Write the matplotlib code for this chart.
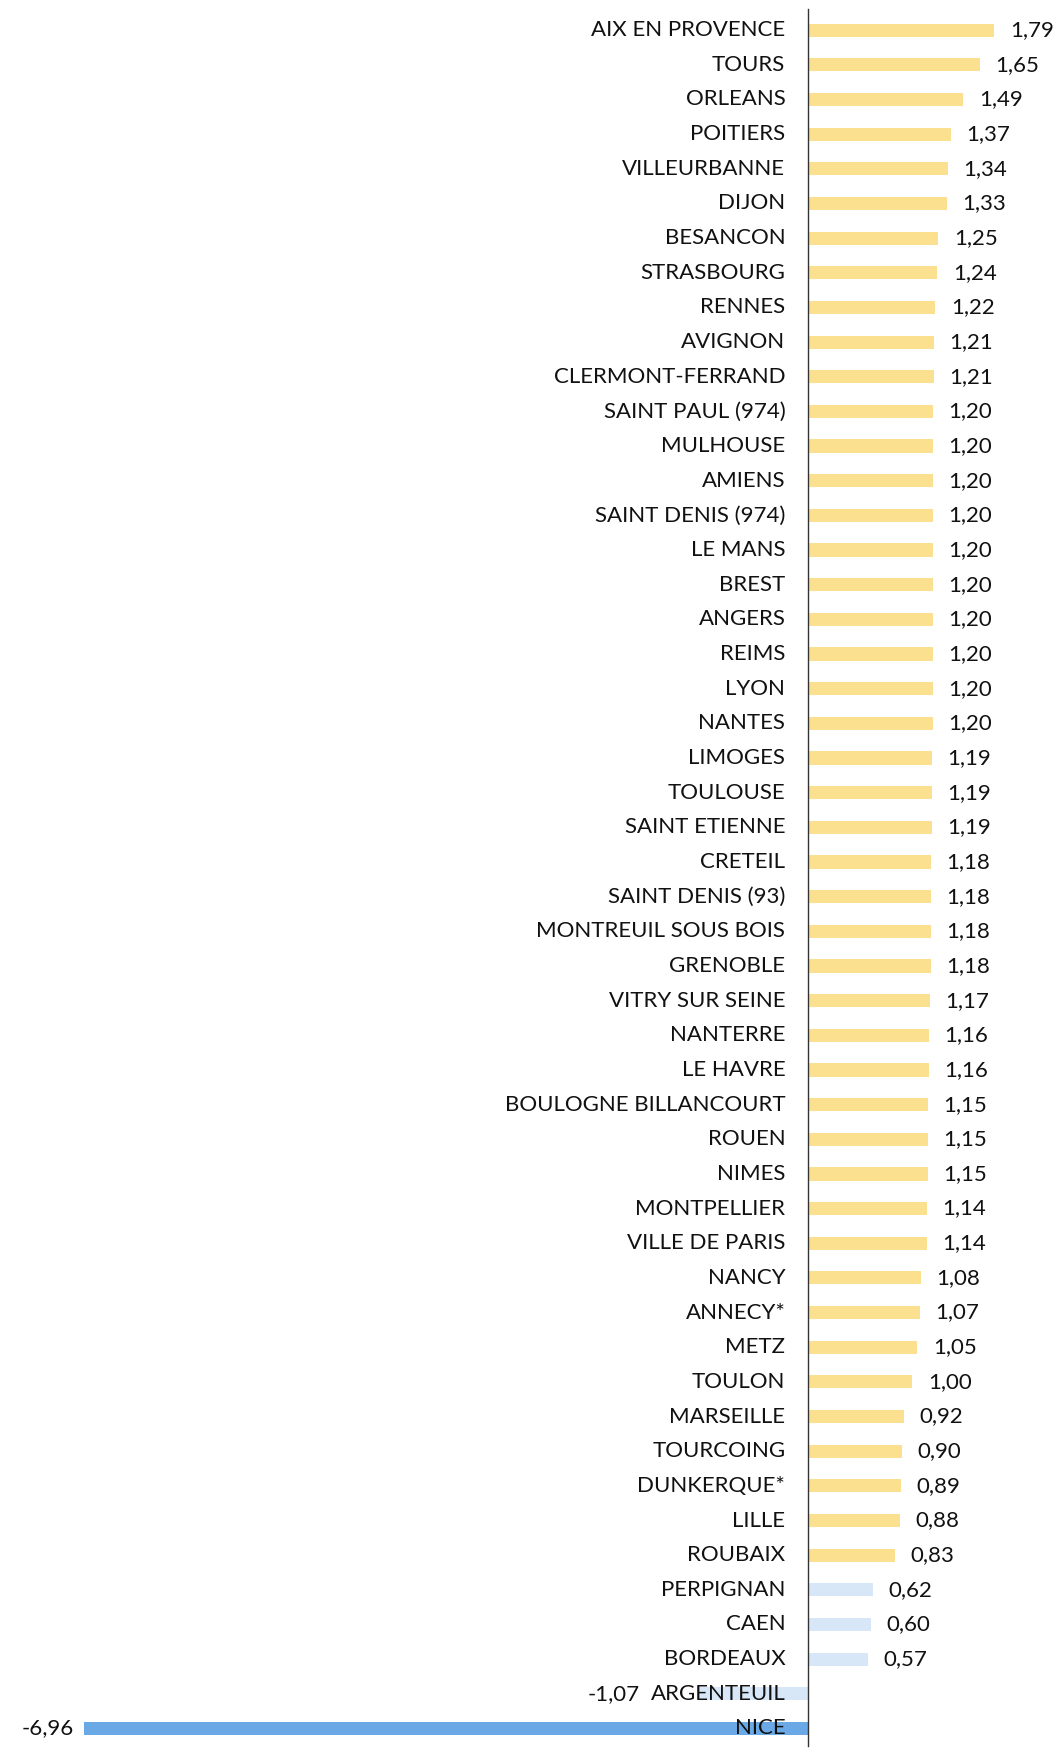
import matplotlib
matplotlib.use('Agg')
import matplotlib.pyplot as plt

cities = ['AIX EN PROVENCE', 'TOURS', 'ORLEANS', 'POITIERS', 'VILLEURBANNE', 'DIJON',
          'BESANCON', 'STRASBOURG', 'RENNES', 'AVIGNON', 'CLERMONT-FERRAND',
          'SAINT PAUL (974)', 'MULHOUSE', 'AMIENS', 'SAINT DENIS (974)', 'LE MANS',
          'BREST', 'ANGERS', 'REIMS', 'LYON', 'NANTES', 'LIMOGES', 'TOULOUSE',
          'SAINT ETIENNE', 'CRETEIL', 'SAINT DENIS (93)', 'MONTREUIL SOUS BOIS',
          'GRENOBLE', 'VITRY SUR SEINE', 'NANTERRE', 'LE HAVRE', 'BOULOGNE BILLANCOURT',
          'ROUEN', 'NIMES', 'MONTPELLIER', 'VILLE DE PARIS', 'NANCY', 'ANNECY*', 'METZ',
          'TOULON', 'MARSEILLE', 'TOURCOING', 'DUNKERQUE*', 'LILLE', 'ROUBAIX',
          'PERPIGNAN', 'CAEN', 'BORDEAUX', 'ARGENTEUIL', 'NICE']
values = [1.79, 1.65, 1.49, 1.37, 1.34, 1.33, 1.25, 1.24, 1.22, 1.21, 1.21,
          1.20, 1.20, 1.20, 1.20, 1.20, 1.20, 1.20, 1.20, 1.20, 1.20, 1.19, 1.19,
          1.19, 1.18, 1.18, 1.18, 1.18, 1.17, 1.16, 1.16, 1.15, 1.15, 1.15, 1.14,
          1.14, 1.08, 1.07, 1.05, 1.00, 0.92, 0.90, 0.89, 0.88, 0.83,
          0.62, 0.60, 0.57, -1.07, -6.96]

plt.rcParams['font.family'] = ['Lato', 'DejaVu Sans']

def bar_color(v):
    if v >= 0.8:
        return '#fbe08f'
    if v > -5:
        return '#d8e7f7'
    return '#6aa9e6'

fig = plt.figure(figsize=(10.61, 17.51), dpi=100)
ax = fig.add_axes([0, 0, 1, 1])
ax.set_xlim(-7.77, 2.43)
ax.set_ylim(49.65, -0.87)
ax.axis('off')

ypos = list(range(len(cities)))
ax.barh(ypos, values, height=0.38, color=[bar_color(v) for v in values], zorder=1)
ax.plot([0, 0], [-0.6, 49.5], color='#333333', lw=1.0, zorder=3)

fig.canvas.draw()
renderer = fig.canvas.get_renderer()
inv = ax.transData.inverted()
fs = 16
for y, name, v in zip(ypos, cities, values):
    t = ax.text(-0.22, y, name, ha='right', va='center', fontsize=fs, color='#111111', zorder=4)
    lab = f'{v:.2f}'.replace('.', ',')
    if v >= 0:
        ax.text(v + 0.15, y, lab, ha='left', va='center', fontsize=fs, color='#111111')
    else:
        bb = t.get_window_extent(renderer)
        left = inv.transform((bb.x0, 0))[0]
        x = min(v, left) - 0.1
        ax.text(x, y, lab, ha='right', va='center', fontsize=fs, color='#111111')

fig.savefig('out.png', dpi=100)
